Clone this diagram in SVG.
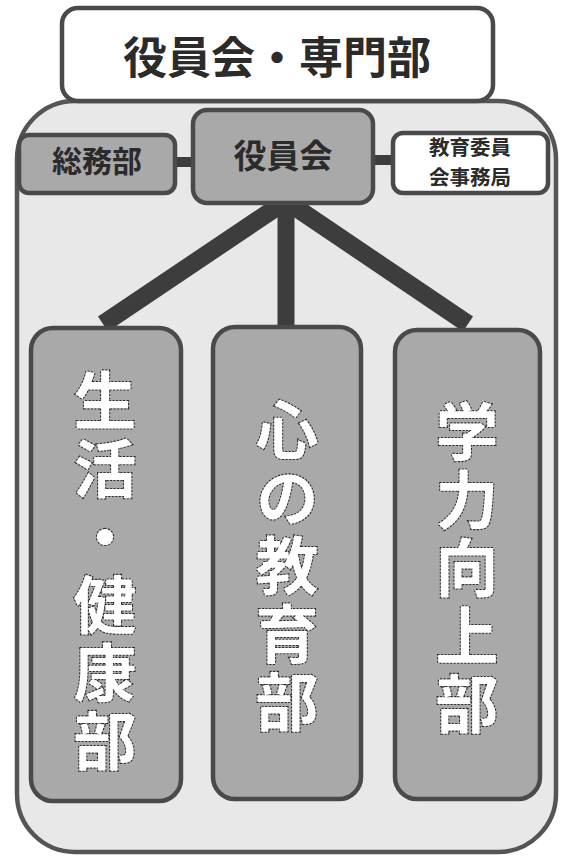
<svg xmlns="http://www.w3.org/2000/svg" width="563" height="856" viewBox="0 0 563 856">
<style>
.box{stroke:#4a4a4a;stroke-width:4.5}
.gray{fill:#a9a9a9}
.white{fill:#ffffff}
.t{font-family:"Noto Sans CJK JP","Noto Sans CJK SC",sans-serif;font-weight:bold;text-anchor:middle;fill:#2b2b2b}
.v{font-family:"Noto Sans CJK JP","Noto Sans CJK SC",sans-serif;font-weight:bold;writing-mode:vertical-rl;fill:#ffffff;stroke:#2e2e2e;stroke-width:2.2;stroke-dasharray:2 1.5;paint-order:stroke;font-size:63px;letter-spacing:5px}
.conn{stroke:#3d3d3d;fill:none}
</style>
<rect width="563" height="856" fill="#ffffff"/>
<g id="container">
<rect x="17" y="101" width="539" height="751" rx="58" ry="58" fill="#e8e8e8" stroke="#555555" stroke-width="4.5"/>
</g>
<g id="title">
<rect x="62" y="8" width="431" height="93" rx="16" class="box white"/>
<text x="277" y="74" class="t" font-size="44">役員会・専門部</text>
</g>
<g id="connectors">
<line x1="175" y1="162" x2="195" y2="162" class="conn" stroke-width="10"/>
<line x1="371" y1="160" x2="395" y2="160" class="conn" stroke-width="10"/>
<line x1="283" y1="203" x2="103" y2="324" class="conn" stroke-width="18"/>
<line x1="286" y1="203" x2="286" y2="328" class="conn" stroke-width="17"/>
<line x1="289" y1="203" x2="468" y2="324" class="conn" stroke-width="18"/>
</g>
<g id="soumu">
<rect x="19" y="135" width="156" height="58" rx="10" class="box gray"/>
<text x="97" y="172" class="t" font-size="30">総務部</text>
</g>
<g id="yakuin">
<rect x="193" y="110" width="180" height="93" rx="14" class="box gray"/>
<text x="283" y="168" class="t" font-size="33">役員会</text>
</g>
<g id="jimukyoku">
<rect x="393" y="133" width="155" height="60" rx="10" class="box white"/>
<text class="t" font-size="20.5"><tspan x="470" y="155">教育委員</tspan><tspan x="470" y="185">会事務局</tspan></text>
</g>
<g id="seikatsu">
<rect x="31" y="328" width="150" height="473" rx="22" class="box gray"/>
<text x="105" y="369" class="v">生活・健康部</text>
</g>
<g id="kokoro">
<rect x="213" y="327" width="148" height="472" rx="22" class="box gray"/>
<text x="287" y="398" class="v">心の教育部</text>
</g>
<g id="gakuryoku">
<rect x="395" y="330" width="145" height="469" rx="22" class="box gray"/>
<text x="467" y="400" class="v">学力向上部</text>
</g>
</svg>
